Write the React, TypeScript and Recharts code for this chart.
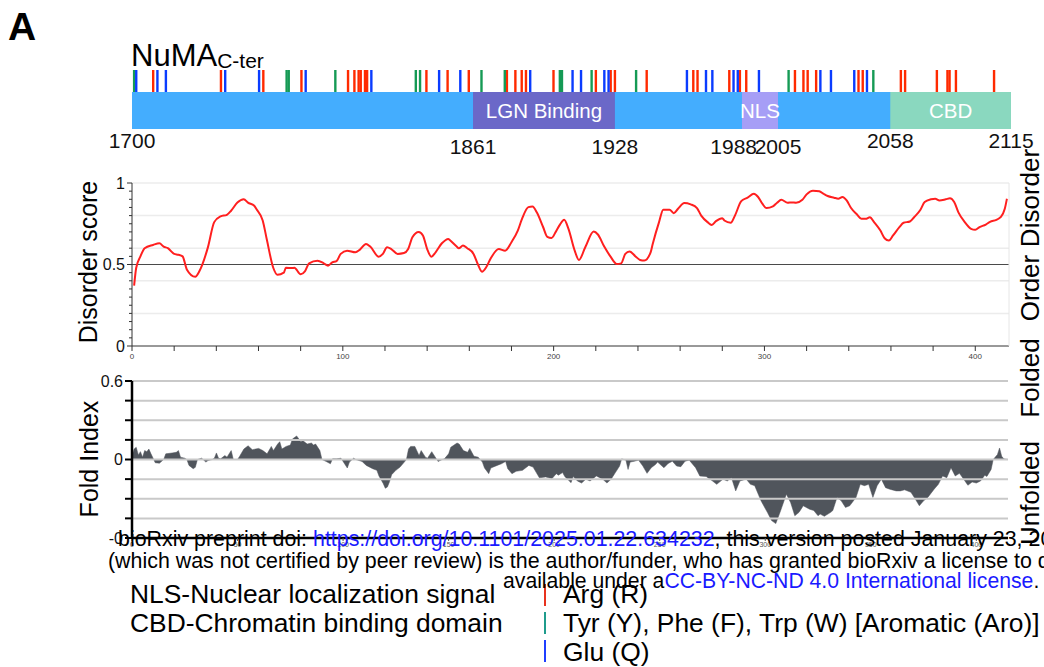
import React from 'react';
import { ComposedChart, LineChart, Line, AreaChart, Area, XAxis, YAxis, ReferenceArea, ReferenceLine } from 'recharts';

const FONT = '"Liberation Sans", Arial, Helvetica, sans-serif';

// ---------- Domain track ----------
const trackRange = [1700, 2115];
const domainNames = ['LGN Binding', 'NLS', 'CBD'];
const domainStarts = [1861, 1988, 2058];
const domainEnds = [1928, 2005, 2115];
const domainColors = ['#6b68c8', '#a69ef6', '#8ad8bf'];
const trackTickLabels = [1700, 1861, 1928, 1988, 2005, 2058, 2115];
const lowerTickLabels = [1861, 1928, 1988, 2005];

const argResidues = [1710, 1742, 1762, 1780, 1802, 1805, 1807, 1808, 1810, 1811, 1839, 1849, 1859, 1877, 1881, 1884, 1886, 1899, 1919, 1926, 1928, 1943, 1965, 1967, 1982, 1987, 1990, 2013, 2017, 2019, 2023, 2043, 2045, 2063, 2065, 2080, 2085, 2086, 2089, 2107];
const aroResidues = [1701, 1773, 1774, 1796, 1834, 1836, 1865, 1876, 1902, 1903, 1917, 1938, 2010, 2050];
const glnResidues = [1702, 1712, 1716, 1744, 1760, 1782, 1813, 1845, 1855, 1888, 1908, 1912, 1923, 1925, 1962, 1971, 1974, 1984, 1986, 1996, 2025, 2030, 2041, 2047];

// ---------- Disorder score ----------
const disorderResidues = [1, 2, 4, 6, 10, 13, 15, 17, 20, 22, 24, 26, 30, 32, 36, 39, 42, 45, 47, 50, 53, 55, 58, 59, 62, 64, 67, 69, 72, 73, 76, 77, 80, 82, 84, 88, 91, 93, 95, 97, 99, 102, 106, 108, 111, 113, 117, 119, 121, 123, 126, 129, 131, 133, 136, 138, 140, 142, 144, 147, 150, 151, 154, 155, 157, 159, 162, 164, 166, 168, 170, 174, 177, 180, 183, 185, 188, 190, 192, 195, 197, 199, 201, 203, 205, 207, 210, 212, 215, 219, 221, 224, 227, 230, 232, 234, 236, 239, 241, 243, 246, 247, 250, 252, 255, 257, 259, 262, 265, 268, 270, 273, 275, 277, 280, 281, 284, 286, 289, 292, 295, 297, 299, 301, 304, 306, 308, 311, 313, 315, 318, 320, 323, 326, 328, 330, 333, 335, 337, 339, 341, 344, 346, 348, 350, 352, 355, 357, 359, 361, 364, 366, 369, 371, 374, 376, 379, 381, 383, 386, 388, 390, 392, 395, 398, 400, 402, 405, 407, 410, 412, 414, 415];
const disorderScores = [0.37, 0.48, 0.55, 0.6, 0.62, 0.63, 0.61, 0.6, 0.565, 0.56, 0.55, 0.47, 0.425, 0.46, 0.605, 0.76, 0.795, 0.805, 0.83, 0.88, 0.9, 0.88, 0.86, 0.84, 0.77, 0.65, 0.48, 0.437, 0.45, 0.48, 0.478, 0.48, 0.44, 0.458, 0.507, 0.523, 0.507, 0.493, 0.513, 0.52, 0.565, 0.585, 0.575, 0.59, 0.626, 0.61, 0.548, 0.565, 0.606, 0.595, 0.565, 0.57, 0.595, 0.667, 0.7, 0.678, 0.595, 0.548, 0.575, 0.63, 0.657, 0.647, 0.61, 0.6, 0.616, 0.6, 0.565, 0.503, 0.456, 0.483, 0.534, 0.595, 0.585, 0.637, 0.708, 0.78, 0.852, 0.856, 0.82, 0.73, 0.67, 0.663, 0.7, 0.745, 0.774, 0.72, 0.585, 0.528, 0.606, 0.702, 0.684, 0.61, 0.548, 0.503, 0.507, 0.565, 0.58, 0.548, 0.528, 0.524, 0.575, 0.626, 0.76, 0.836, 0.836, 0.815, 0.842, 0.877, 0.869, 0.846, 0.8, 0.76, 0.743, 0.766, 0.784, 0.77, 0.756, 0.8, 0.889, 0.91, 0.934, 0.914, 0.873, 0.846, 0.856, 0.879, 0.897, 0.879, 0.881, 0.879, 0.897, 0.93, 0.953, 0.95, 0.934, 0.92, 0.91, 0.904, 0.914, 0.893, 0.848, 0.805, 0.78, 0.78, 0.79, 0.76, 0.708, 0.661, 0.647, 0.678, 0.729, 0.756, 0.764, 0.79, 0.836, 0.883, 0.9, 0.904, 0.893, 0.9, 0.906, 0.883, 0.82, 0.76, 0.719, 0.713, 0.729, 0.745, 0.762, 0.774, 0.79, 0.842, 0.903];
const disorderTicks = [0, 0.05, 0.1, 0.15, 0.2, 0.25, 0.3, 0.35, 0.4, 0.45, 0.5, 0.55, 0.6, 0.65, 0.7, 0.75, 0.8, 0.85, 0.9, 0.95, 1];
const disorderLabelled = [0, 0.5, 1];
const disorderGrid = [0.2, 0.4, 0.6, 0.8, 1];
const disorderXTicks = [0, 20, 40, 60, 80, 100, 120, 140, 160, 180, 200, 220, 240, 260, 280, 300, 320, 340, 360, 380, 400];

// ---------- Fold index ----------
const foldResidues = [0, 1, 2, 3, 4, 5, 6, 7, 8, 9, 10, 11, 13, 15, 16, 19, 21, 22, 23, 25, 26, 27, 29, 30, 31, 33, 35, 36, 38, 39, 40, 41, 42, 44, 45, 47, 48, 50, 51, 53, 55, 57, 60, 62, 64, 66, 67, 69, 70, 71, 73, 75, 76, 78, 80, 81, 83, 85, 86, 87, 89, 90, 92, 94, 95, 97, 99, 100, 102, 103, 105, 106, 109, 111, 114, 116, 117, 119, 120, 121, 122, 123, 125, 127, 129, 130, 131, 132, 134, 136, 137, 139, 140, 142, 144, 145, 147, 148, 150, 151, 154, 155, 157, 159, 160, 162, 164, 166, 167, 169, 170, 173, 175, 177, 178, 180, 182, 185, 188, 190, 193, 196, 199, 201, 202, 204, 205, 208, 209, 211, 213, 215, 217, 220, 223, 225, 227, 229, 231, 232, 234, 235, 236, 238, 240, 242, 244, 246, 248, 249, 252, 254, 256, 258, 260, 262, 264, 267, 269, 272, 275, 277, 280, 282, 284, 286, 288, 291, 293, 295, 298, 301, 303, 305, 307, 310, 312, 314, 316, 318, 321, 323, 325, 326, 328, 331, 332, 334, 336, 338, 340, 343, 345, 347, 349, 351, 353, 355, 357, 359, 362, 364, 366, 369, 371, 373, 375, 377, 380, 382, 384, 386, 388, 390, 392, 394, 396, 398, 400, 402, 404, 405, 407, 408, 410, 411, 412, 413, 415];
const foldIndex = [0.025, 0.08, 0.093, 0.035, 0.06, 0.018, 0.068, 0.06, 0.08, 0.043, 0.01, -0.025, -0.028, 0, 0.043, 0.05, 0.055, 0.068, 0.018, 0.01, 0, -0.045, -0.07, -0.06, 0, 0.01, -0.02, -0.008, 0, 0.01, 0.05, 0.01, 0.005, 0.03, 0.018, 0.068, 0, 0, 0.025, 0.08, 0.105, 0.075, 0.085, 0.068, 0.043, 0.1, 0.068, 0.118, 0.136, 0.08, 0.1, 0.11, 0.156, 0.18, 0.136, 0.143, 0.118, 0.126, 0.11, 0.118, 0.068, 0, -0.015, -0.033, 0.005, 0.005, 0.01, -0.015, -0.065, -0.02, 0.01, 0, -0.015, -0.045, -0.07, -0.083, -0.126, -0.183, -0.22, -0.21, -0.17, -0.116, -0.083, -0.058, -0.02, 0, 0.08, 0.1, 0.1, 0.03, 0.068, 0.018, 0.01, 0.06, 0.01, -0.015, 0, 0.005, 0.043, 0.093, 0.126, 0.118, 0.068, 0.055, 0.085, 0.025, 0.018, -0.02, -0.065, -0.108, -0.065, -0.045, -0.033, -0.015, -0.07, -0.108, -0.09, -0.083, -0.045, -0.058, -0.14, -0.133, -0.146, -0.108, -0.12, -0.1, -0.13, -0.177, -0.13, -0.164, -0.18, -0.15, -0.164, -0.126, -0.15, -0.18, -0.15, -0.1, -0.05, 0.005, -0.005, -0.076, -0.02, -0.013, -0.005, -0.05, -0.106, -0.063, -0.038, -0.02, -0.063, -0.03, -0.013, -0.05, -0.055, -0.013, -0.005, -0.063, -0.126, -0.13, -0.164, -0.19, -0.15, -0.164, -0.139, -0.24, -0.164, -0.15, -0.19, -0.2, -0.316, -0.404, -0.467, -0.49, -0.404, -0.265, -0.328, -0.43, -0.404, -0.354, -0.38, -0.39, -0.43, -0.417, -0.434, -0.404, -0.39, -0.29, -0.316, -0.366, -0.354, -0.29, -0.19, -0.2, -0.19, -0.29, -0.2, -0.15, -0.215, -0.227, -0.24, -0.24, -0.232, -0.25, -0.3, -0.354, -0.316, -0.29, -0.227, -0.19, -0.126, -0.139, -0.063, -0.126, -0.106, -0.15, -0.197, -0.172, -0.18, -0.164, -0.12, -0.13, -0.076, 0, 0.038, 0.088, 0.025, 0.005, 0];
const foldTicks = [-0.6, -0.45, -0.3, -0.15, 0, 0.15, 0.3, 0.45, 0.6];
const foldLabels = ['-0', '', '', '', '0', '', '', '', '0.6'];
const foldXTicks = [0, 50, 100, 150, 200, 250, 300, 350, 400];

// ---------- Legend & side labels ----------
const legendAbbrev = ['NLS-Nuclear localization signal', 'CBD-Chromatin binding domain'];
const residueLegend = ['Arg (R)', 'Tyr (Y), Phe (F), Trp (W) [Aromatic (Aro)]', 'Glu (Q)'];
const residueColors = ['#ff2a00', '#159a55', '#0a3cff'];
const residueLegendColors = ['#e8321e', '#1f9c8c', '#1f3fff'];
const sideLabels = ['Disorder', 'Order', 'Folded', 'Unfolded'];
const sideCenters = [198, 288, 378, 493];

const disorderData = disorderResidues.map((r, i) => ({ r, score: disorderScores[i] }));
const foldData = foldResidues.map((r, i) => ({ r, fold: foldIndex[i] }));
const trackData = [{ x: trackRange[0], y: 0 }, { x: trackRange[1], y: 100 }];
const residueSets = [argResidues, aroResidues, glnResidues];

const BAR_TOP = 62.7;

const TrackTick = (props: any) => {
  const { x, y, payload } = props;
  const v = payload.value;
  const low = lowerTickLabels.includes(v);
  let anchor: any = 'middle';
  let dx = 0;
  if (v === 1988) { anchor = 'end'; dx = 15; }
  return (
    <text x={x + dx} y={y} dy={low ? 23 : 17} textAnchor={anchor} fontSize={21} fontFamily={FONT} fill="#111">{v}</text>
  );
};

const DisorderYTick = (props: any) => {
  const { x, y, payload } = props;
  const v = payload.value;
  const major = disorderLabelled.some((m) => Math.abs(m - v) < 1e-6);
  return (
    <g>
      <line x1={x - (major ? 5 : 3)} x2={x} y1={y} y2={y} stroke="#333" strokeWidth={1} />
      {major && (
        <text x={x - 7} y={y} dy="0.36em" textAnchor="end" fontSize={16} fontFamily={FONT} fill="#111">{String(v)}</text>
      )}
    </g>
  );
};

const FoldYTick = (props: any) => {
  const { x, y, index } = props;
  return (
    <g>
      <line x1={x - 7} x2={x} y1={y} y2={y} stroke="#000" strokeWidth={2} />
      {foldLabels[index] && (
        <text x={x - 9} y={y} dy="0.36em" textAnchor="end" fontSize={16} fontFamily={FONT} fill="#111">{foldLabels[index]}</text>
      )}
    </g>
  );
};

export default function App() {
  return (
    <div style={{ position: 'absolute', left: 0, top: 0, width: 1044, height: 667, background: '#fff', fontFamily: FONT, overflow: 'hidden' }}>
      {/* Domain track */}
      <div style={{ position: 'absolute', left: 0, top: 0 }}>
        <ComposedChart width={1044} height={180} data={trackData} margin={{ top: 70, right: 33, left: 132, bottom: 0 }}>
          <XAxis dataKey="x" type="number" domain={trackRange} ticks={trackTickLabels} interval={0} tick={<TrackTick />} tickSize={0} axisLine={false} tickLine={false} height={51} />
          <YAxis type="number" domain={[0, 100]} width={0} tick={false} axisLine={false} tickLine={false} />
          <Line dataKey="y" stroke="none" dot={false} isAnimationActive={false} />
          <ReferenceArea x1={trackRange[0]} x2={trackRange[1]} y1={0} y2={BAR_TOP} fill="#44adfe" fillOpacity={1} stroke="none" ifOverflow="visible" />
          {domainNames.map((n, i) => (
            <ReferenceArea key={n} x1={domainStarts[i]} x2={domainEnds[i]} y1={0} y2={BAR_TOP} fill={domainColors[i]} fillOpacity={1} stroke="none" ifOverflow="visible"
              label={{ value: n, position: 'center', fill: '#ffffff', fontSize: 20.5, fontFamily: FONT }} />
          ))}
          {residueSets.map((set, si) => set.map((r) => (
            <ReferenceLine key={`${si}-${r}`} ifOverflow="visible" segment={[{ x: r, y: BAR_TOP }, { x: r, y: 100 }]} stroke={residueColors[si]} strokeWidth={2.4} />
          )))}
        </ComposedChart>
      </div>

      {/* Disorder chart */}
      <div style={{ position: 'absolute', left: 0, top: 170 }}>
        <LineChart width={1044} height={200} data={disorderData} margin={{ top: 13, right: 0, left: 0, bottom: 0 }}>
          <XAxis dataKey="r" type="number" domain={[0, 416]} ticks={disorderXTicks} interval={0} height={24}
            tickFormatter={(v: number) => (v % 100 === 0 ? String(v) : '')}
            tick={{ fontSize: 8, fill: '#444', fontFamily: FONT }} tickSize={5} stroke="#333" />
          <YAxis yAxisId="l" type="number" domain={[0, 1]} ticks={disorderTicks} interval={0} width={132}
            tick={<DisorderYTick />} tickLine={false} tickSize={0} tickMargin={0} axisLine={{ stroke: '#333' }} />
          <YAxis yAxisId="r" orientation="right" type="number" domain={[0, 1]} width={35} tick={false} tickLine={false} axisLine={{ stroke: '#e6e6e6' }} />
          {disorderGrid.map((g) => (
            <ReferenceLine key={g} yAxisId="l" y={g} stroke="#ececec" strokeWidth={1.5} />
          ))}
          <ReferenceLine yAxisId="l" y={0.5} stroke="#4a4a4a" strokeWidth={1.2} />
          <Line yAxisId="l" dataKey="score" type="monotone" stroke="#ff1f1f" strokeWidth={2} dot={false} isAnimationActive={false} />
        </LineChart>
      </div>

      {/* Fold index chart */}
      <div style={{ position: 'absolute', left: 0, top: 370 }}>
        <AreaChart width={1044} height={190} data={foldData} margin={{ top: 11, right: 36, left: 0, bottom: 0 }}>
          <XAxis dataKey="r" type="number" domain={[0, 415]} ticks={foldXTicks} interval={0} height={22}
            tick={{ fontSize: 7, fill: '#555', fontFamily: FONT }} tickSize={3} tickMargin={1}
            axisLine={{ stroke: '#000', strokeWidth: 2.5 }} tickLine={{ stroke: '#555' }} />
          <YAxis type="number" domain={[-0.6, 0.6]} ticks={foldTicks} interval={0} width={132}
            tick={<FoldYTick />} tickLine={false} tickSize={0} tickMargin={0} axisLine={{ stroke: '#000', strokeWidth: 2.5 }} />
          {foldTicks.map((g) => (
            <ReferenceLine key={g} y={g} stroke="#c9c9c9" strokeWidth={2} />
          ))}
          <Area dataKey="fold" type="linear" baseValue={0} stroke="#50555c" strokeWidth={0.5} fill="#50555c" fillOpacity={1} isAnimationActive={false} />
        </AreaChart>
      </div>

      {/* Labels, legend and watermark */}
      <svg width={1044} height={667} style={{ position: 'absolute', left: 0, top: 0, pointerEvents: 'none' }} fontFamily={FONT}>
        <text x={8} y={40} fontSize={39} fontWeight="bold" fill="#000">A</text>
        <text x={131} y={66} fontSize={31} fill="#000">NuMA<tspan fontSize={21} dy={2}>C-ter</tspan></text>

        <text transform="translate(97,262) rotate(-90)" textAnchor="middle" fontSize={25} fill="#000">Disorder score</text>
        <text transform="translate(98,459) rotate(-90)" textAnchor="middle" fontSize={25} fill="#000">Fold Index</text>

        {sideLabels.map((s, i) => (
          <text key={s} transform={`translate(1039,${sideCenters[i]}) rotate(-90)`} textAnchor="middle" fontSize={26} fill="#000">{s}</text>
        ))}

        {legendAbbrev.map((s, i) => (
          <text key={s} x={130} y={603 + i * 29} fontSize={26.4} fill="#000">{s}</text>
        ))}
        {residueLegend.map((s, i) => (
          <g key={s}>
            <line x1={545} x2={545} y1={584 + i * 28} y2={606 + i * 28} stroke={residueLegendColors[i]} strokeWidth={2} />
            <text x={563} y={603 + i * 29} fontSize={26.4} fill="#000">{s}</text>
          </g>
        ))}

        <text x={118} y={546} fontSize={21.4} fill="#000">bioRxiv preprint doi: <tspan fill="#1a1aff">https://doi.org/10.1101/2025.01.22.634232</tspan>, this version posted January 23, 2025. The copyright holder for this preprint</text>
        <text x={108} y={568} fontSize={21.4} fill="#000">(which was not certified by peer review) is the author/funder, who has granted bioRxiv a license to display the preprint in perpetuity. It is made</text>
        <text x={503} y={588} fontSize={21.2} fill="#000">available under a<tspan fill="#1a1aff">CC-BY-NC-ND 4.0 International license</tspan>.</text>
      </svg>
    </div>
  );
}
